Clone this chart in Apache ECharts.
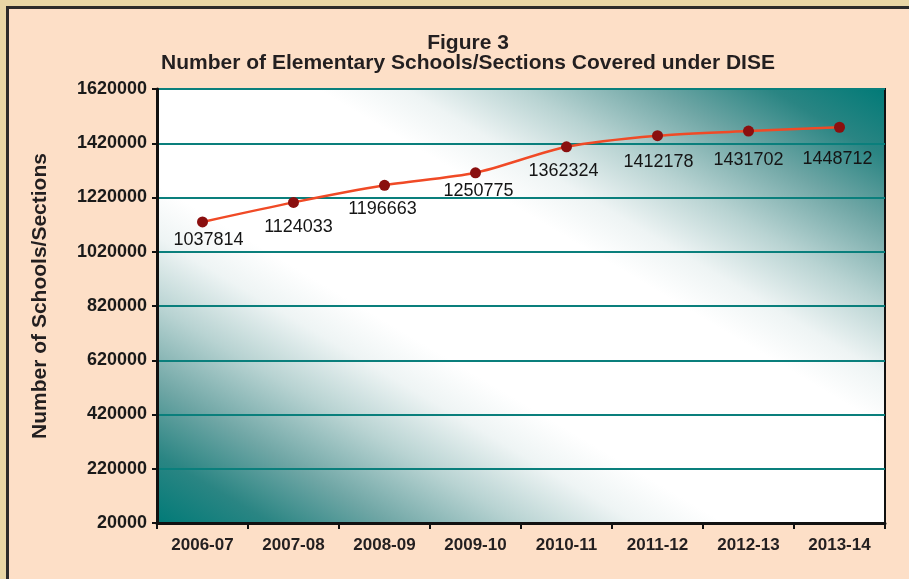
<!DOCTYPE html>
<html><head><meta charset="utf-8">
<script src="https://cdn.jsdelivr.net/npm/echarts@6/dist/echarts.min.js"></script>
<style>
html,body{margin:0;padding:0;width:909px;height:579px;overflow:hidden;background:#fddfc7;}
.deco{position:fixed;}
#bgTop{left:0;top:0;width:909px;height:6px;background:#e8d6a6;}
#bgLeft{left:0;top:0;width:6px;height:579px;background:#e8d6a6;}
#lnTop{left:6px;top:6px;width:903px;height:3px;background:#2b2b2b;}
#lnLeft{left:6px;top:6px;width:3px;height:573px;background:#2b2b2b;}
#chart{position:fixed;left:0;top:0;width:909px;height:579px;}
</style></head><body>
<div class="deco" id="bgTop"></div><div class="deco" id="bgLeft"></div>
<div class="deco" id="lnTop"></div><div class="deco" id="lnLeft"></div>
<div id="chart"></div>
<script>
// Data
const categories = ['2006-07','2007-08','2008-09','2009-10','2010-11','2011-12','2012-13','2013-14'];
// Marker heights as drawn in the picture (read against the axis)
const plottedValues = [1130000, 1202000, 1265000, 1311000, 1407000, 1448000, 1465000, 1479000];
// Value labels as printed in the picture
const labelTexts = ['1037814','1124033','1196663','1250775','1362324','1412178','1431702','1448712'];
const yMin = 20000, yMax = 1620000, yStep = 200000;

// Styling only: label nudges
const labelNudges = [[6,-1],[5,5],[-2,4],[3,-1],[-3,5],[1,7],[0,9],[-2,12]];

const chart = echarts.init(document.getElementById('chart'));
const fontFam = 'Arial, "Liberation Sans", Helvetica, sans-serif';
const teal = '#007a77';
chart.setOption({
  backgroundColor: 'transparent',
  animation: false,
  title: {
    text: 'Figure 3\nNumber of Elementary Schools/Sections Covered under DISE',
    left: 463, top: 28, textAlign: 'center',
    textStyle: {fontFamily: fontFam, fontWeight: 'bold', fontSize: 21, lineHeight: 20, color: '#231f20'}
  },
  grid: {
    left: 157, right: 24, top: 89, bottom: 56, show: true,
    borderColor: '#111', borderWidth: 2,
    backgroundColor: new echarts.graphic.LinearGradient(0.238, 1.237, 0.762, -0.237, [
      {offset: 0, color: teal}, {offset: 0.08, color: '#2a8583'}, {offset: 0.16, color: '#6fa6a5'},
      {offset: 0.25, color: '#b8d3d2'}, {offset: 0.33, color: '#eef4f4'}, {offset: 0.39, color: '#ffffff'},
      {offset: 0.61, color: '#ffffff'}, {offset: 0.67, color: '#eef4f4'}, {offset: 0.75, color: '#b8d3d2'},
      {offset: 0.84, color: '#6fa6a5'}, {offset: 0.92, color: '#2a8583'}, {offset: 1, color: teal}
    ])
  },
  xAxis: {
    type: 'category', data: categories, boundaryGap: true,
    axisLine: {lineStyle: {color: '#111', width: 3}},
    axisTick: {show: true, length: 6, lineStyle: {color: '#111', width: 2}},
    axisLabel: {fontFamily: fontFam, fontWeight: 'bold', fontSize: 17, color: '#231f20', margin: 14}
  },
  yAxis: {
    type: 'value', min: yMin, max: yMax, interval: yStep,
    name: 'Number of Schools/Sections', nameLocation: 'middle', nameGap: 106, nameRotate: 90,
    nameTextStyle: {fontFamily: fontFam, fontWeight: 'bold', fontSize: 21, color: '#231f20', padding: [0,0,0,20]},
    axisLine: {show: true, lineStyle: {color: '#111', width: 3}},
    axisTick: {show: true, length: 5, lineStyle: {color: '#111', width: 2}},
    axisLabel: {fontFamily: fontFam, fontWeight: 'bold', fontSize: 18, color: '#1a1a1a', margin: 10,
      formatter: v => String(v)},
    splitLine: {show: true, lineStyle: {color: '#0a7f7c', width: 2}}
  },
  series: [{
    type: 'line', smooth: 0.25,
    data: plottedValues.map((v, i) => ({
      value: v,
      label: {formatter: labelTexts[i], offset: labelNudges[i]}
    })),
    symbol: 'circle', symbolSize: 11,
    itemStyle: {color: '#8a0f0f'},
    lineStyle: {color: '#f04a26', width: 2.5},
    label: {show: true, position: 'bottom', distance: 5, fontFamily: fontFam, fontSize: 18, color: '#151515'}
  }]
});
</script>
</body></html>
